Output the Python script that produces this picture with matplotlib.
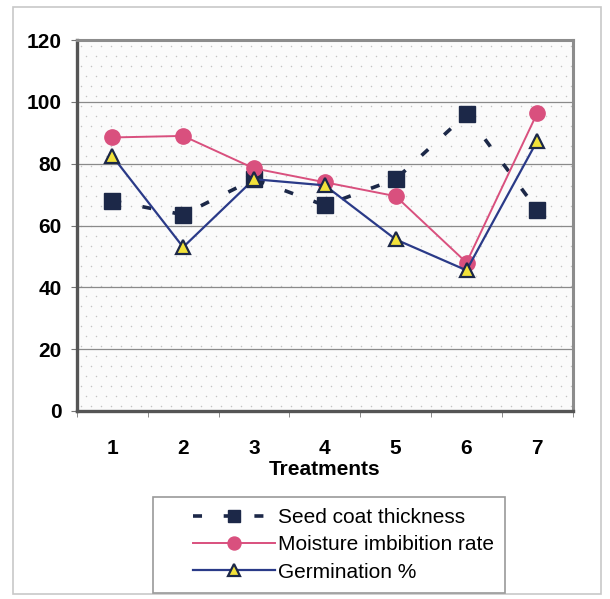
import matplotlib.pyplot as plt
import numpy as np
from matplotlib.patches import Rectangle

plt.rcParams['font.family'] = ['Liberation Sans', 'DejaVu Sans']

treatments = [1, 2, 3, 4, 5, 6, 7]
seed_coat = [68, 63.5, 75, 66.5, 75, 96, 65]
moisture = [88.5, 89, 78.5, 74, 69.5, 48, 96.5]
germination = [82.5, 53, 75, 73, 55.5, 45.5, 87.5]

fig = plt.figure(figsize=(6.1, 5.99), dpi=100)
fig.patch.set_facecolor('white')

# outer frame of the chart
fig.patches.append(Rectangle((0.021, 0.008), 0.964, 0.98, transform=fig.transFigure,
                             fill=False, edgecolor='#c8c8c8', linewidth=1.2))
# legend frame (Excel-style, wider than its contents)
fig.patches.append(Rectangle((153 / 610, 1 - 593 / 599), 352 / 610, 96 / 599,
                             transform=fig.transFigure, fill=False,
                             edgecolor='#9a9a9a', linewidth=1.2))

ax = fig.add_axes([0.126, 0.314, 0.813, 0.619])
ax.set_facecolor('#fbfbfb')

# dotted plot-area fill (staggered dot grid, about 10 px apart)
w_px, h_px = 496, 371
gx, gy = [], []
for j, yy in enumerate(np.arange(5, h_px, 10)):
    off = 5 if j % 2 else 0
    xs = np.arange(4 + off, w_px, 10)
    gx.extend(xs / w_px)
    gy.extend([yy / h_px] * len(xs))
ax.scatter(gx, gy, s=1.2, color='#c4c4c4', transform=ax.transAxes, zorder=0, linewidths=0)

for v in [20, 40, 60, 80, 100]:
    ax.axhline(v, color='#8a8a8a', linewidth=0.9, zorder=1)

ax.plot(treatments, seed_coat, color='#1c2848', linestyle=(0, (2.5, 6)), linewidth=2.6,
        marker='s', markersize=11, markerfacecolor='#1c2848', markeredgecolor='#1c2848',
        label='Seed coat thickness', zorder=3)
ax.plot(treatments, moisture, color='#d9507e', linewidth=1.4,
        marker='o', markersize=11, markerfacecolor='#d9507e', markeredgecolor='#d9507e',
        label='Moisture imbibition rate', zorder=4)
ax.plot(treatments, germination, color='#2a3a88', linewidth=1.6,
        marker='^', markersize=10, markerfacecolor='#f2e23a', markeredgecolor='#1c2848',
        markeredgewidth=1.6, label='Germination %', zorder=5)

ax.set_xlim(0.5, 7.5)
ax.set_ylim(0, 120)
ax.set_yticks([0, 20, 40, 60, 80, 100, 120])
ax.set_xticks(treatments)
ax.set_xticks([0.5 + i for i in range(8)], minor=True)
ax.tick_params(axis='x', which='major', length=0, pad=20, labelsize=15)
ax.tick_params(axis='x', which='minor', length=4, color='#777777')
ax.tick_params(axis='y', length=4, color='#777777', labelsize=15, pad=7)
for lbl in ax.get_xticklabels() + ax.get_yticklabels():
    lbl.set_fontweight('bold')
ax.set_xlabel('Treatments', fontsize=15, fontweight='bold', labelpad=2)

for side in ['left', 'bottom']:
    ax.spines[side].set_color('#555555')
    ax.spines[side].set_linewidth(2.4)
for side in ['top', 'right']:
    ax.spines[side].set_color('#8c8c8c')
    ax.spines[side].set_linewidth(2.2)

leg = fig.legend(loc='upper left', bbox_to_anchor=(193 / 610, 1 - 508 / 599), fontsize=15,
                 frameon=False, handlelength=3.95, handletextpad=0.15,
                 borderpad=0, borderaxespad=0, labelspacing=0.4, markerscale=0.85)

fig.savefig('out.png', dpi=100)
